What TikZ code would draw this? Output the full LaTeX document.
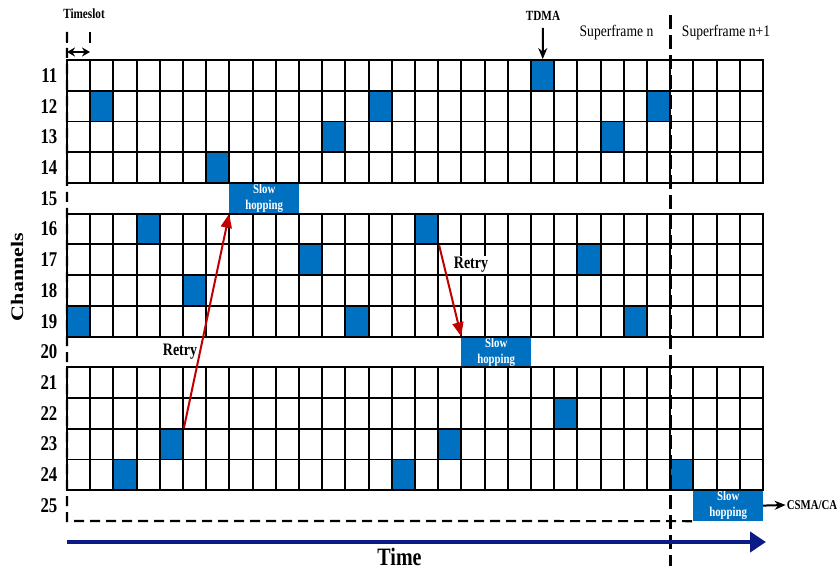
\documentclass[tikz,border=0pt]{standalone}
\usepackage{graphicx}
\usepackage{fontspec}
\setmainfont{Liberation Serif}[FakeStretch=0.85]
\newfontfamily\bfam{Liberation Serif}[FakeStretch=0.8]
\newfontfamily\cfam{Liberation Serif}
\usetikzlibrary{arrows.meta}
\definecolor{cellblue}{HTML}{0070C0}
\definecolor{timeblue}{HTML}{0B1A85}
\definecolor{retryred}{HTML}{C00000}
\tikzset{
  gridline/.style={line width=1.9pt, black, line cap=rect},
  cell/.style={draw=black, line width=1.9pt, fill=cellblue, minimum width=23.2pt, minimum height=30.73pt, inner sep=0pt},
  slowhop/.style={fill=cellblue, minimum width=69.6pt, minimum height=30.73pt, inner sep=0pt, text=white, font=\bfam\bfseries\fontsize{13.5}{16}\selectfont, align=center},
  chlabel/.style={anchor=east, font=\bfam\bfseries\fontsize{21}{21}\selectfont, inner sep=0pt},
  retryarrow/.style={draw=retryred, line width=2pt, -{Triangle[length=14pt,width=11pt]}},
  retrylabel/.style={fill=white, font=\bfam\bfseries\fontsize{17.5}{17.5}\selectfont, inner sep=1pt},
  smalllabel/.style={font=\bfam\bfseries\fontsize{14}{14}\selectfont, inner sep=1pt},
  sflabel/.style={font=\fontsize{16}{16}\selectfont, inner sep=0pt},
  blackarrow/.style={line width=2pt, -{Stealth[length=11pt,width=9pt]}},
  dashline/.style={line width=2.2pt, dash pattern=on 10pt off 6pt},
  sfdash/.style={line width=3pt, dash pattern=on 14pt off 6pt},
  timearrow/.style={draw=timeblue, line width=4pt, -{Triangle[length=16pt,width=20pt]}},
}
\begin{document}
\begin{tikzpicture}[x=1pt,y=-1pt]
\useasboundingbox (0,0) rectangle (838,572);

% slow hopping boxes (under the grid)
\node[slowhop] (sh15) at ({67+23.2*8.5},{60+30.73*4.5}) {Slow\\hopping};
\node[slowhop] (sh20) at ({67+23.2*18.5},{60+30.73*9.5}) {Slow\\hopping};
\node[slowhop] (sh25) at ({67+23.2*28.5},{60+30.73*14.5}) {Slow\\hopping};

% left dashed boundary and bottom dashed line
\draw[dashline] (67,32) -- (67,520.9) -- (sh25.south west);

% grid blocks
\foreach \s in {0,5,10} {
  \foreach \i in {0,...,4}
    \draw[gridline] (67,{60+30.73*(\s+\i)}) -- (763,{60+30.73*(\s+\i)});
  \foreach \c in {0,...,30}
    \draw[gridline] ({67+23.2*\c},{60+30.73*\s}) -- ({67+23.2*\c},{60+30.73*(\s+4)});
}

% blue cells
\foreach \r/\c in {11/20, 12/1, 12/13, 12/25, 13/11, 13/23, 14/6,
                   16/3, 16/15, 17/10, 17/22, 18/5, 19/0, 19/12, 19/24,
                   22/21, 23/4, 23/16, 24/2, 24/14, 24/26}
  \node[cell] (c\r-\c) at ({67+23.2*(\c+0.5)},{60+30.73*(\r-10.5)}) {};

% channel numbers
\foreach \r in {11,...,25}
  \node[chlabel] (ch\r) at (57.5,{60+30.73*(\r-10.5)}) {\r};

% channels axis label
\node[rotate=90, font=\cfam\bfseries\fontsize{22}{22}\selectfont, inner sep=0pt] (chan) at (17,277) {\scalebox{1}[0.8]{Channels}};

% superframe divider
\draw[sfdash] (670,15) -- (670,566);
\node[sflabel] (sfn) at (616.5,33) {Superframe n};
\node[sflabel] (sfn1) at (726,33) {Superframe n+1};

% timeslot marker
\node[smalllabel] (tslot) at (84,14) {Timeslot};
\draw[line width=2pt] (67,32) -- (67,43);
\draw[line width=2pt] (90,32) -- (90,43);
\coordinate (ts1) at (67,52);
\coordinate (ts2) at (90,52);
\draw[line width=2pt, {Stealth[length=8pt,width=9pt]}-{Stealth[length=8pt,width=9pt]}] (ts1) -- (ts2);

% TDMA
\node[smalllabel] (tdma) at (543,16) {TDMA};
\draw[blackarrow, shorten <=6pt] (tdma) -- (c11-20);

% retry arrows
\node[retrylabel, fill=none] (retry1) at (180,352) {Retry};
\draw[retryarrow] (c23-4.north east) -- (sh15.south west);
\draw[retryarrow] (c16-15.south east) -- (sh20.north west);
\node[retrylabel] (retry2) at (471,265) {Retry};

% CSMA/CA
\node[smalllabel, font=\bfam\bfseries\fontsize{13.5}{13.5}\selectfont] (csma) at (812,505) {CSMA/CA};
\draw[blackarrow] (sh25.east) -- (csma.west);

% time axis
\coordinate (t0) at (67,542);
\coordinate (t1) at (766,542);
\draw[timearrow] (t0) -- (t1);
\node[font=\bfam\bfseries\fontsize{25}{25}\selectfont, inner sep=0pt] (time) at (399.5,557) {Time};
\end{tikzpicture}
\end{document}
